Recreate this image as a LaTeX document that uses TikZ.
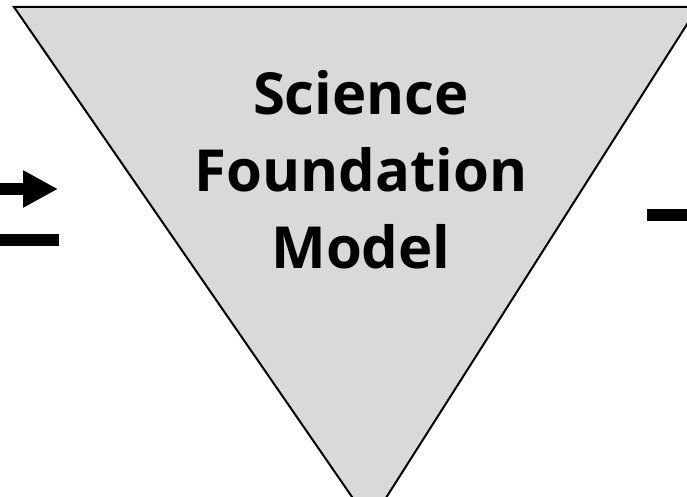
\documentclass[tikz,border=0pt]{standalone}
\usepackage{fontspec}
\setmainfont{Open Sans}
\usetikzlibrary{arrows.meta}
\definecolor{sfmgray}{HTML}{D9D9D9}
\tikzstyle{funnel} = [draw=black, line width=2pt, fill=sfmgray, line join=miter]
\tikzstyle{label} = [align=center, font=\fontsize{58}{77}\selectfont\bfseries, inner sep=0pt]
\tikzstyle{arrow} = [line width=12pt, -{Triangle[length=35pt,width=35pt]}]
\tikzstyle{bar} = [line width=12pt]

\begin{document}
\begin{tikzpicture}[x=1pt, y=1pt]
	\useasboundingbox (0,0) rectangle (687,496);
	\clip (0,0) rectangle (687,496);
	\coordinate (tl) at (14,489);
	\coordinate (tr) at (698,489);
	\coordinate (tip) at (370,-27);
	\draw [funnel] (tl) -- (tr) -- (tip) -- cycle;
	\node (sfm) [label] at (361,326) {Science\\Foundation\\Model};
	
	\coordinate (in1) at (0,307);
	\coordinate (in1end) at (58,307);
	\coordinate (in2) at (0,256);
	\coordinate (in2end) at (59,256);
	\coordinate (out1) at (647,281);
	\coordinate (out1end) at (687,281);
	\draw [arrow] (in1) -- (in1end);
	\draw [bar] (in2) -- (in2end);
	\draw [bar] (out1) -- (out1end);
\end{tikzpicture}
\end{document}
